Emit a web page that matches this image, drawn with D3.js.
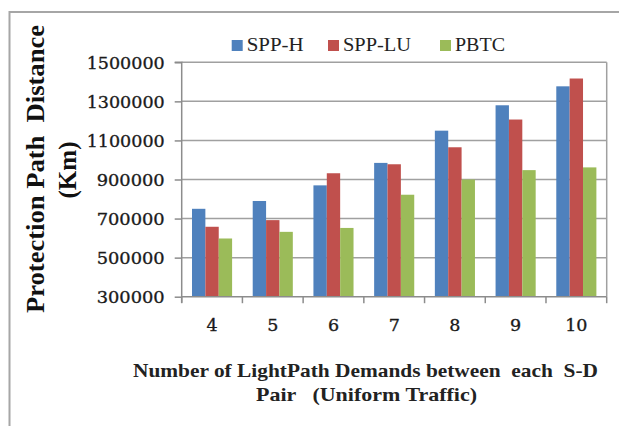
<!DOCTYPE html>
<html><head><meta charset="utf-8">
<script src="https://cdn.jsdelivr.net/npm/d3@7"></script>
<style>html,body{margin:0;padding:0;background:#fff;}svg{display:block;}text{white-space:pre;}</style>
</head><body>
<svg id="c" width="619" height="426"></svg>
<script>
const categories = ["4","5","6","7","8","9","10"];
const seriesNames = ["SPP-H","SPP-LU","PBTC"];
const sppH  = [750000, 790000, 870000, 985000, 1150000, 1280000, 1377000];
const sppLU = [658000, 692000, 932000, 978000, 1065000, 1207000, 1417000];
const pbtc  = [598000, 632000, 652000, 822000, 900000, 948000, 962000];
const yTicks = [300000, 500000, 700000, 900000, 1100000, 1300000, 1500000];
const colors = ["#4F81BD","#C0504D","#9BBB59"];
const seriesValues = [sppH, sppLU, pbtc];

const svg = d3.select("#c");
const L = 181.7, R = 606.7, T = 62.3, B = 296.7;

// outer border
svg.append("path").attr("d", `M9.5,426 L9.5,12 L619,12`).attr("fill","none")
  .attr("stroke","#a6a6a6").attr("stroke-width",2);

const x0 = d3.scaleBand().domain(categories).range([L, R]).padding(0);
const x1 = d3.scaleBand().domain(seriesNames).range([10.3, 50.4]).padding(0);
const y = d3.scaleLinear().domain([300000, 1500000]).range([B, T]);

// gridlines
svg.append("g").selectAll("line").data(yTicks.slice(1)).join("line")
  .attr("x1", L).attr("x2", R).attr("y1", d => y(d)).attr("y2", d => y(d))
  .attr("stroke","#a0a0a0").attr("stroke-width",1.5);
// right border
svg.append("line").attr("x1",R).attr("x2",R).attr("y1",T).attr("y2",B)
  .attr("stroke","#a0a0a0").attr("stroke-width",1.5);

// bars
const rows = categories.map((c,i) => ({c, vals: seriesNames.map((s,j)=>({s, v: seriesValues[j][i], col: colors[j]}))}));
svg.append("g").selectAll("g").data(rows).join("g")
  .attr("transform", d => `translate(${x0(d.c)},0)`)
  .selectAll("rect").data(d => d.vals).join("rect")
  .attr("x", d => x1(d.s)).attr("width", x1.bandwidth())
  .attr("y", d => y(d.v)).attr("height", d => B - y(d.v))
  .attr("fill", d => d.col);

// y axis
const yAxis = d3.axisLeft(y).tickValues(yTicks).tickSize(7).tickPadding(10).tickFormat(d3.format("d"));
const gy = svg.append("g").attr("transform", `translate(${L},0)`).call(yAxis);
gy.select(".domain").attr("stroke","#8c8c8c").attr("stroke-width",1.5).attr("d", `M-7,${T}H0V${B+6}`);
gy.selectAll(".tick line").attr("stroke","#8c8c8c").attr("stroke-width",1.5);
gy.selectAll(".tick text").attr("font-family","DejaVu Serif").attr("font-size",17.5)
  .attr("fill","#1a1a1a").attr("stroke","#1a1a1a").attr("stroke-width",0.35)
  .attr("lengthAdjust","spacingAndGlyphs")
  .each(function(d){ d3.select(this).attr("textLength", String(d).length===7?78:68); })
  .attr("dy","0.35em");

// x axis
const xTicks = categories.map(c => x0(c)).concat([R]);
svg.append("g").selectAll("line").data(xTicks).join("line")
  .attr("x1", d=>d).attr("x2", d=>d).attr("y1", B).attr("y2", B+6.5)
  .attr("stroke","#8c8c8c").attr("stroke-width",1.5);
svg.append("line").attr("x1",L).attr("x2",R).attr("y1",B).attr("y2",B)
  .attr("stroke","#8c8c8c").attr("stroke-width",1.5);
svg.append("g").selectAll("text").data(categories).join("text")
  .attr("x", d => x0(d) + x0.bandwidth()/2).attr("y", 331)
  .attr("text-anchor","middle").attr("font-family","DejaVu Serif").attr("font-size",17.5)
  .attr("fill","#1a1a1a").attr("stroke","#1a1a1a").attr("stroke-width",0.35).text(d => d);

// x title
const xt = svg.append("g").attr("font-family","Liberation Serif").attr("font-weight","bold")
  .attr("font-size",19.5).attr("fill","#222");
xt.append("text").attr("x",133).attr("y",377).attr("textLength",465).attr("lengthAdjust","spacingAndGlyphs")
  .text("Number of LightPath Demands between  each  S-D");
xt.append("text").attr("x",256).attr("y",401).attr("textLength",221).attr("lengthAdjust","spacingAndGlyphs")
  .text("Pair   (Uniform Traffic)");

// y title
const yt = svg.append("g").attr("font-family","Liberation Serif").attr("font-weight","bold")
  .attr("font-size",25).attr("fill","#111");
yt.append("text").attr("transform","translate(44,313) rotate(-90)").attr("x",0).attr("y",0)
  .attr("textLength",288).attr("lengthAdjust","spacingAndGlyphs").text("Protection Path  Distance");
yt.append("text").attr("transform","translate(76,170) rotate(-90)").attr("text-anchor","middle")
  .text("(Km)");

// legend
const legX = [231.7, 328, 440];
const legW = [57, 68, 50];
const lg = svg.append("g").selectAll("g").data(seriesNames).join("g")
  .attr("transform",(d,i)=>`translate(${legX[i]},40)`);
lg.append("rect").attr("width",11).attr("height",11).attr("fill",(d,i)=>colors[i]);
lg.append("text").attr("x",15).attr("y",11).attr("font-family","Liberation Serif")
  .attr("font-size",19).attr("fill","#222")
  .attr("textLength",(d,i)=>legW[i]).attr("lengthAdjust","spacingAndGlyphs").text(d=>d);
</script>
</body></html>
